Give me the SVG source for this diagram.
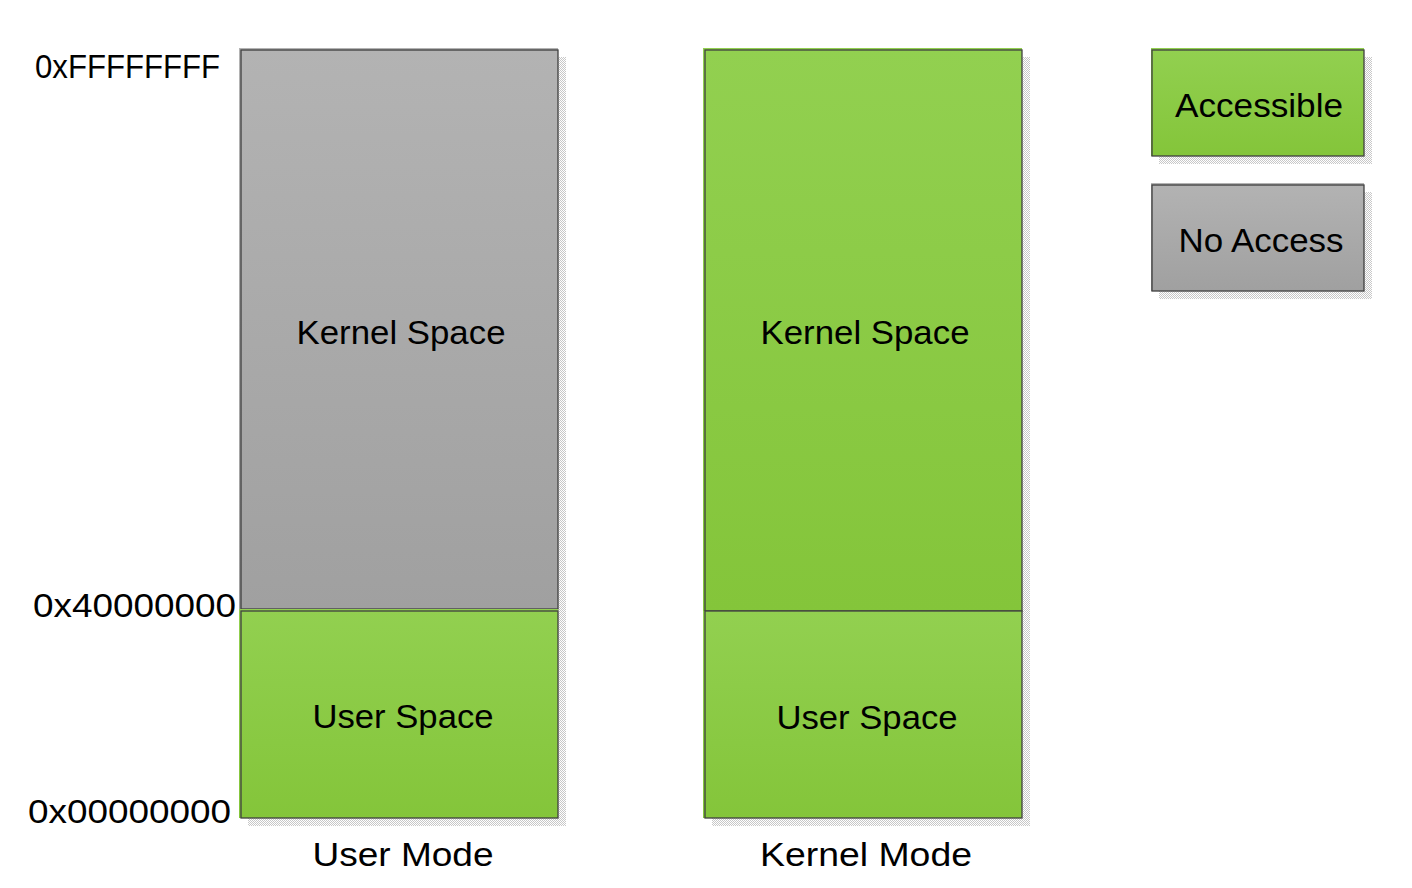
<svg xmlns="http://www.w3.org/2000/svg" width="1412" height="888" viewBox="0 0 1412 888">
<defs>
<linearGradient id="green" x1="0" y1="0" x2="0" y2="1"><stop offset="0" stop-color="#92d050"/><stop offset="1" stop-color="#84c53a"/></linearGradient>
<linearGradient id="grey" x1="0" y1="0" x2="0" y2="1"><stop offset="0" stop-color="#b3b3b3"/><stop offset="1" stop-color="#a0a0a0"/></linearGradient>
<pattern id="dither" width="2" height="2" patternUnits="userSpaceOnUse"><rect width="2" height="2" fill="#ffffff"/><rect width="1" height="1" fill="#c8c8c8"/><rect x="1" y="1" width="1" height="1" fill="#c8c8c8"/></pattern>
</defs>
<style>
text{font-family:"Liberation Sans",Arial,sans-serif;fill:#000}
.lbl{font-size:34px;text-anchor:middle}
.addr{font-size:34px;text-anchor:end}
.edge{fill:none;stroke:#404040;stroke-width:1.3}
.shadow{fill:url(#dither)}
</style>
<g id="shadows">
<rect class="shadow" x="248" y="57" width="318" height="769"/>
<rect class="shadow" x="712" y="57" width="318" height="769"/>
<rect class="shadow" x="1159" y="57" width="213" height="107"/>
<rect class="shadow" x="1159" y="192" width="213" height="107"/>
</g>
<g id="user-mode-kernel">
<rect x="239" y="48" width="319" height="561" fill="url(#grey)"/>
<rect class="edge" x="241" y="50" width="317" height="559"/>
<text class="lbl" x="401" y="344" textLength="209" lengthAdjust="spacingAndGlyphs">Kernel Space</text>
</g>
<g id="user-mode-user">
<rect x="239" y="609" width="319" height="209" fill="url(#green)"/>
<rect class="edge" x="241" y="611" width="317" height="207"/>
<text class="lbl" x="403" y="728" textLength="181" lengthAdjust="spacingAndGlyphs">User Space</text>
</g>
<g id="kernel-mode-kernel">
<rect x="703" y="48" width="319" height="563" fill="url(#green)"/>
<rect class="edge" x="705" y="50" width="317" height="561"/>
<text class="lbl" x="865" y="344" textLength="209" lengthAdjust="spacingAndGlyphs">Kernel Space</text>
</g>
<g id="kernel-mode-user">
<rect x="703" y="611" width="319" height="207" fill="url(#green)"/>
<rect class="edge" x="705" y="611" width="317" height="207"/>
<text class="lbl" x="867" y="729" textLength="181" lengthAdjust="spacingAndGlyphs">User Space</text>
</g>
<g id="legend-accessible">
<rect x="1151" y="48" width="213" height="108" fill="url(#green)"/>
<rect class="edge" x="1152" y="50" width="212" height="106"/>
<text class="lbl" x="1259" y="117" textLength="168" lengthAdjust="spacingAndGlyphs">Accessible</text>
</g>
<g id="legend-noaccess">
<rect x="1151" y="183" width="213" height="108" fill="url(#grey)"/>
<rect class="edge" x="1152" y="185" width="212" height="106"/>
<text class="lbl" x="1261" y="252" textLength="165" lengthAdjust="spacingAndGlyphs">No Access</text>
</g>
<g id="labels">
<text class="addr" x="220" y="78" textLength="185" lengthAdjust="spacingAndGlyphs">0xFFFFFFFF</text>
<text class="addr" x="236" y="617" textLength="203" lengthAdjust="spacingAndGlyphs">0x40000000</text>
<text class="addr" x="231" y="823" textLength="203" lengthAdjust="spacingAndGlyphs">0x00000000</text>
<text class="lbl" x="403" y="866" textLength="181" lengthAdjust="spacingAndGlyphs">User Mode</text>
<text class="lbl" x="866" y="866" textLength="212" lengthAdjust="spacingAndGlyphs">Kernel Mode</text>
</g>
<g id="connectors"/>
</svg>
